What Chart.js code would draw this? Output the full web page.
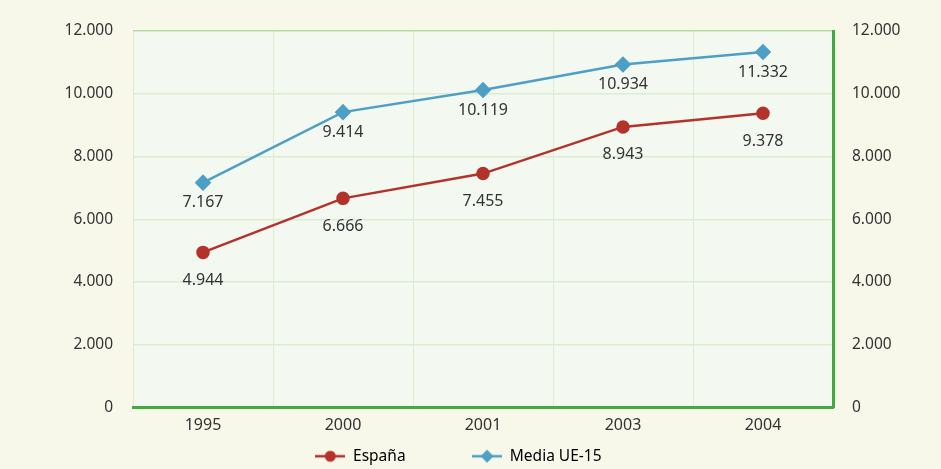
<!DOCTYPE html>
<html>
<head>
<meta charset="utf-8">
<script src="https://cdn.jsdelivr.net/npm/chart.js@4.4.1/dist/chart.umd.min.js"></script>
<style>
  html, body { margin: 0; padding: 0; background: #f7f7ea; }
  #wrap { width: 941px; height: 469px; }
</style>
</head>
<body>
<div id="wrap"><canvas id="myChart"></canvas></div>
<script>
var years = ['1995', '2000', '2001', '2003', '2004'];
var espana = [4944, 6666, 7455, 8943, 9378];
var mediaUE = [7167, 9414, 10119, 10934, 11332];
var yTicks = [0, 2000, 4000, 6000, 8000, 10000, 12000];

var RED = '#b3322a';
var BLUE = '#4d9fc6';
var GREEN = '#43aa43';
var FONT = '"Noto Sans", sans-serif';

function fmt(v) {
    return String(v).replace(/\B(?=(\d{3})+(?!\d))/g, '.');
}

// little legend icon: line with marker in the middle
function legendIcon(color, style) {
    var c = document.createElement('canvas');
    c.width = 30; c.height = 14;
    var g = c.getContext('2d');
    g.strokeStyle = color; g.lineWidth = 2.5;
    g.beginPath(); g.moveTo(0, 7); g.lineTo(30, 7); g.stroke();
    g.fillStyle = color;
    g.beginPath();
    if (style == 'circle') {
        g.arc(15, 7, 5.5, 0, Math.PI * 2);
    } else {
        g.moveTo(15, 0.5); g.lineTo(21.5, 7); g.lineTo(15, 13.5); g.lineTo(8.5, 7); g.closePath();
    }
    g.fill();
    return c;
}

var bgPlugin = {
    id: 'bg',
    beforeDraw: function(chart) {
        var ctx = chart.ctx, a = chart.chartArea;
        ctx.save();
        ctx.fillStyle = '#f7f7ea';
        ctx.fillRect(0, 0, chart.width, chart.height);
        ctx.fillStyle = '#f3f8f1';
        ctx.fillRect(a.left, a.top, a.right - a.left, a.bottom - a.top);
        ctx.restore();
    }
};

var labelPlugin = {
    id: 'pointLabels',
    afterDatasetsDraw: function(chart) {
        var ctx = chart.ctx;
        ctx.save();
        ctx.font = '16px ' + FONT;
        ctx.fillStyle = '#333333';
        ctx.textAlign = 'center';
        ctx.textBaseline = 'middle';
        chart.data.datasets.forEach(function(ds, i) {
            var meta = chart.getDatasetMeta(i);
            meta.data.forEach(function(pt, j) {
                ctx.fillText(fmt(ds.data[j]), pt.x, pt.y + ds.labelOffset);
            });
        });
        ctx.restore();
    }
};

var ctx = document.getElementById('myChart').getContext('2d');
var myChart = new Chart(ctx, {
    type: 'line',
    data: {
        labels: years,
        datasets: [{
            label: 'España',
            data: espana,
            borderColor: RED,
            backgroundColor: RED,
            borderWidth: 2.5,
            pointRadius: 5.5,
            pointHoverRadius: 5.5,
            pointStyle: 'circle',
            labelOffset: 28,
            legendIcon: legendIcon(RED, 'circle'),
            legendText: 'España                ',
            yAxisID: 'y'
        }, {
            label: 'Media UE-15',
            data: mediaUE,
            borderColor: BLUE,
            backgroundColor: BLUE,
            borderWidth: 2.5,
            pointRadius: 6.5,
            pointHoverRadius: 6.5,
            pointStyle: 'rectRot',
            labelOffset: 20,
            legendIcon: legendIcon(BLUE, 'diamond'),
            legendText: 'Media UE-15      ',
            yAxisID: 'y'
        }]
    },
    options: {
        responsive: true,
        maintainAspectRatio: false,
        animation: false,
        layout: { padding: { top: 31, bottom: -5, left: 0, right: 0 } },
        plugins: {
            tooltip: { enabled: false },
            legend: {
                position: 'bottom',
                labels: {
                    usePointStyle: true,
                    pointStyleWidth: 30,
                    padding: 2,
                    color: '#333333',
                    font: { family: FONT, size: 15.5 },
                    generateLabels: function(chart) {
                        return chart.data.datasets.map(function(ds, i) {
                            return {
                                text: ds.legendText,
                                pointStyle: ds.legendIcon,
                                fillStyle: ds.borderColor,
                                strokeStyle: ds.borderColor,
                                lineWidth: 0,
                                datasetIndex: i
                            };
                        });
                    }
                }
            }
        },
        scales: {
            x: {
                offset: true,
                grid: { color: '#dcecd3', drawTicks: false, offset: true },
                border: { color: GREEN, width: 3 },
                ticks: {
                    color: '#333333', padding: 8,
                    font: { family: FONT, size: 16 }
                },
                afterFit: function(s) { s.height = 39; }
            },
            y: {
                position: 'left',
                min: 0, max: 12000,
                grid: {
                    drawTicks: false,
                    color: function(c) { return c.tick.value == 12000 ? '#b3dd9c' : '#dcecd3'; },
                    lineWidth: function(c) { return c.tick.value == 0 ? 0 : 1.5; }
                },
                border: { display: false },
                afterBuildTicks: function(s) { s.ticks = yTicks.map(function(v) { return { value: v }; }); },
                ticks: {
                    color: '#333333', padding: 20,
                    font: { family: FONT, size: 15.5 },
                    callback: function(v) { return fmt(v); }
                },
                afterFit: function(s) { s.width = 133; }
            },
            y2: {
                position: 'right',
                min: 0, max: 12000,
                grid: { display: false, drawTicks: false },
                border: { color: GREEN, width: 3 },
                afterBuildTicks: function(s) { s.ticks = yTicks.map(function(v) { return { value: v }; }); },
                ticks: {
                    color: '#333333', padding: 19,
                    font: { family: FONT, size: 15.5 },
                    callback: function(v) { return fmt(v); }
                },
                afterFit: function(s) { s.width = 108; }
            }
        }
    },
    plugins: [bgPlugin, labelPlugin]
});
</script>
</body>
</html>
